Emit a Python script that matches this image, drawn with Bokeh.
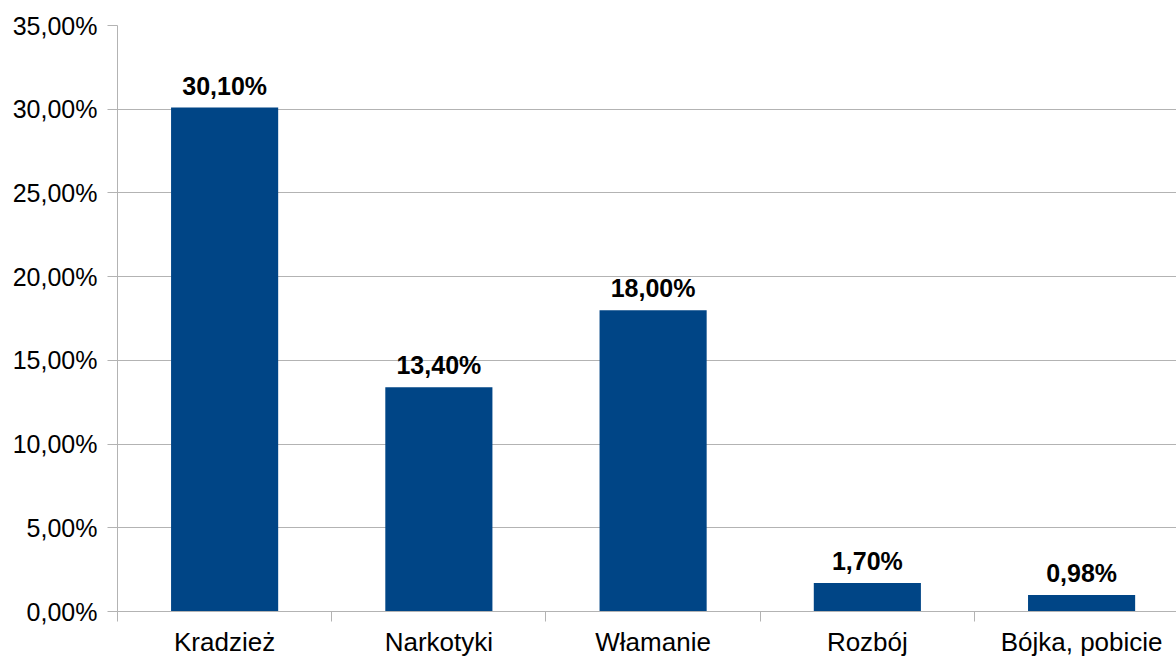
from bokeh.plotting import figure
from bokeh.models import Range1d, FixedTicker, ColumnDataSource
from bokeh.core.properties import value
from bokeh.embed import file_html
from bokeh.resources import INLINE

categories = ["Kradzież", "Narkotyki", "Włamanie", "Rozbój", "Bójka, pobicie"]
values = [30.10, 13.40, 18.00, 1.70, 0.98]
y_ticks = [0, 5, 10, 15, 20, 25, 30, 35]

FONT = "Liberation Sans"
GRAY = "#b3b3b3"
BAR = "#004586"

xs = [i + 0.5 for i in range(len(categories))]
labels = [f"{v:.2f}".replace(".", ",") + "%" for v in values]
src = ColumnDataSource(dict(x=xs, top=values, label=labels))

p = figure(width=1176, height=659, output_backend="svg", toolbar_location=None,
           x_range=Range1d(0, 4.943), y_range=Range1d(0, 35),
           min_border_left=117, min_border_right=0, min_border_top=25, min_border_bottom=48)
p.outline_line_color = None
p.background_fill_color = "white"
p.border_fill_color = "white"

p.vbar(x="x", top="top", width=0.5, bottom=0, source=src, color=BAR, line_color=None)
p.text(x="x", y="top", text="label", source=src, text_align="center",
       text_baseline="alphabetic", y_offset=-22,
       text_font=value(FONT), text_font_style="bold", text_font_size="25px", text_color="black")

# y axis
p.yaxis.ticker = FixedTicker(ticks=y_ticks, minor_ticks=[])
p.yaxis.major_label_overrides = {t: f"{t},00%" for t in y_ticks}
p.yaxis.major_label_text_font = FONT
p.yaxis.major_label_text_font_size = "25px"
p.yaxis.major_label_text_color = "black"
p.yaxis.major_label_standoff = 10
p.yaxis.major_tick_out = 10
p.yaxis.major_tick_in = 0
p.yaxis.minor_tick_line_color = None
p.yaxis.axis_line_color = GRAY
p.yaxis.major_tick_line_color = GRAY

# x axis
p.xaxis.ticker = FixedTicker(ticks=xs, minor_ticks=list(range(len(categories) + 1)))
p.xaxis.major_label_overrides = {x: c for x, c in zip(xs, categories)}
p.xaxis.major_label_text_font = FONT
p.xaxis.major_label_text_font_size = "26px"
p.xaxis.major_label_text_color = "black"
p.xaxis.major_label_standoff = 5
p.xaxis.major_tick_out = 0
p.xaxis.major_tick_in = 0
p.xaxis.major_tick_line_color = None
p.xaxis.minor_tick_out = 10
p.xaxis.minor_tick_in = 0
p.xaxis.minor_tick_line_color = GRAY
p.xaxis.axis_line_color = GRAY

p.xgrid.grid_line_color = None
p.ygrid.grid_line_color = GRAY
p.ygrid.ticker = FixedTicker(ticks=y_ticks)

open("out.html", "w").write(file_html(p, INLINE))
